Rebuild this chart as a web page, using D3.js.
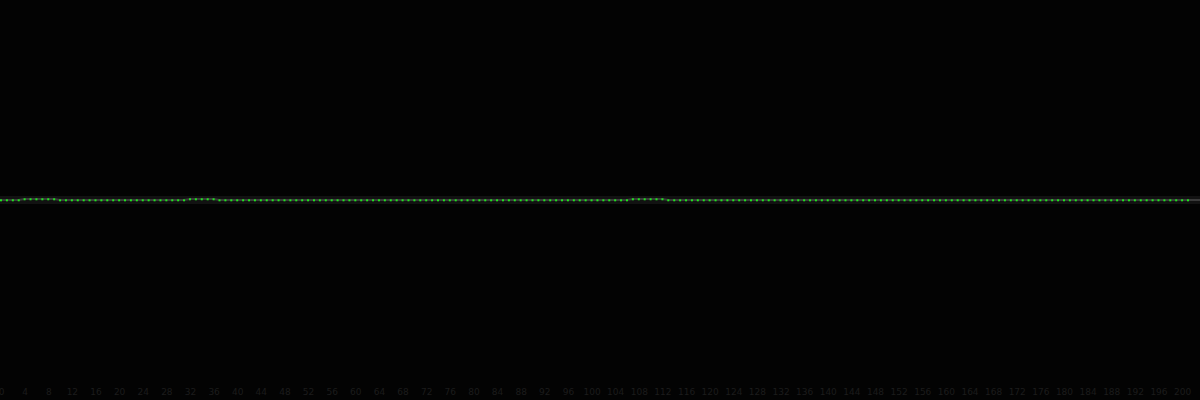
<!DOCTYPE html>
<html><head><meta charset="utf-8">
<script src="https://cdn.jsdelivr.net/npm/d3@7"></script>
<style>html,body{margin:0;padding:0;background:#030303;overflow:hidden}</style>
</head><body><svg id="c" width="1200" height="400"></svg>
<script>
// 202 samples; nearly all sit at baseline 0, three short runs sit at 1
const highRuns = [[4, 9], [32, 36], [107, 112]];
const indices = d3.range(202);
const values = indices.map(i => highRuns.some(([a, b]) => i >= a && i <= b) ? 1 : 0);
const tickIdx = indices.filter(i => i % 4 === 0);
const tickLabels = tickIdx.map(i => String(i));

const W = 1200, H = 400;
const svg = d3.select("#c");
svg.append("rect").attr("width", W).attr("height", H).attr("fill", "#030303");

const x = d3.scaleLinear().domain([0, 201]).range([1, 1188]);
const y = d3.scaleLinear().domain([-200, 200]).range([400.3, 0.3]);

const data = indices.map(i => ({ i, v: values[i] }));

// faint halo band
svg.append("line").attr("x1", 0).attr("x2", W)
  .attr("y1", y(0) - 0.3).attr("y2", y(0) - 0.3)
  .attr("stroke", "#121212").attr("stroke-width", 8);

const line = d3.line().x(d => x(d.i)).y(d => y(d.v) - 0.3);
svg.append("line").attr("x1", 0).attr("x2", x(0))
  .attr("y1", y(0) - 0.3).attr("y2", y(0) - 0.3).attr("stroke", "#3a3a3a").attr("stroke-width", 2);
svg.append("line").attr("x1", x(201)).attr("x2", W)
  .attr("y1", y(0) - 0.3).attr("y2", y(0) - 0.3).attr("stroke", "#3a3a3a").attr("stroke-width", 2);
svg.append("path").datum(data).attr("d", line)
  .attr("fill", "none").attr("stroke", "#3a3a3a").attr("stroke-width", 2);

svg.selectAll("rect.pt").data(data).join("rect").attr("class", "pt")
  .attr("x", d => x(d.i) - 1).attr("y", d => y(d.v) - 1)
  .attr("width", 2).attr("height", 2).attr("fill", "#1ee61e");

// very dark axis labels along the bottom edge
const axis = d3.axisBottom(x).tickValues(tickIdx)
  .tickFormat((d, k) => tickLabels[k]).tickSize(0);
const g = svg.append("g").attr("transform", "translate(0,386)").call(axis);
g.select(".domain").remove();
g.selectAll("text").attr("fill", "#1c1c1c").attr("font-family", "DejaVu Sans").attr("font-size", 9);
</script></body></html>
